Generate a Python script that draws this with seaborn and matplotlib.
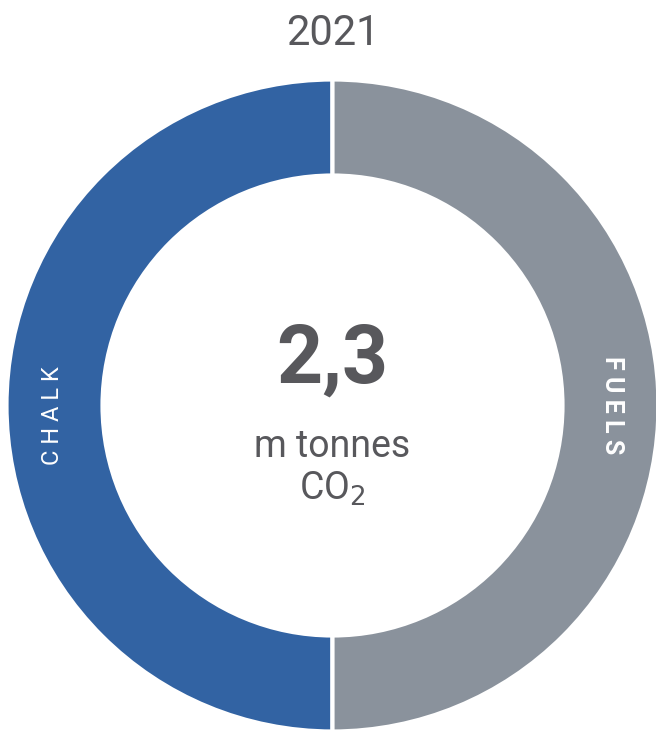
import matplotlib
matplotlib.use("Agg")
import matplotlib.pyplot as plt
import seaborn as sns

# Emission sources and their shares of total CO2
sources = ["CHALK", "FUELS"]
shares = [50, 50]
total_label = "2,3"
unit_label = "m tonnes"
year = "2021"
colors = ["#3263a3", "#8a929c"]
text_color = "#58585c"

sns.set_theme(style="white")
plt.rcParams["font.family"] = ["Roboto", "DejaVu Sans"]

W, H = 656, 731
cx, cy, R = 332.5, 405.5, 326.0   # ring centre and drawn radius in pixels
ring_w = 96.0

fig = plt.figure(figsize=(W / 100, H / 100), dpi=100)
ax = fig.add_axes([(cx - R) / W, (H - cy - R) / H, 2 * R / W, 2 * R / H])
ax.set_aspect("equal")

wedges, _ = ax.pie(
    shares,
    colors=colors,
    startangle=90,
    counterclock=True,
    radius=1.0,
    wedgeprops=dict(width=ring_w / R, edgecolor="white", linewidth=3),
)
ax.set_xlim(-1, 1)
ax.set_ylim(-1, 1)
ax.axis("off")

mid_r = 1 - (ring_w / R) / 2


def spaced(s):
    return " ".join(s)


# Segment labels running along the ring
ax.text(-mid_r - 0.005, -0.03, spaced(sources[0]), rotation=90, ha="center", va="center",
        color="white", fontsize=17, fontweight="normal")
ax.text(mid_r + 0.005, 0.0, spaced(sources[1]), rotation=-90, ha="center", va="center",
        color="white", fontsize=18, fontweight="bold")

# Centre total
ax.text(0, (cy - 383) / R, total_label, ha="center", va="baseline", color=text_color,
        fontsize=58, fontweight="bold")
ax.text(0, (cy - 457) / R, unit_label, ha="center", va="baseline", color=text_color,
        fontsize=27)
ax.text(0, (cy - 500) / R, r"CO$_2$", ha="center", va="baseline", color=text_color,
        fontsize=27)

fig.text(cx / W, 1 - 45 / H, year, ha="center", va="baseline",
         color=text_color, fontsize=30, fontweight="normal")

fig.savefig("out.png", dpi=100, facecolor="white")
